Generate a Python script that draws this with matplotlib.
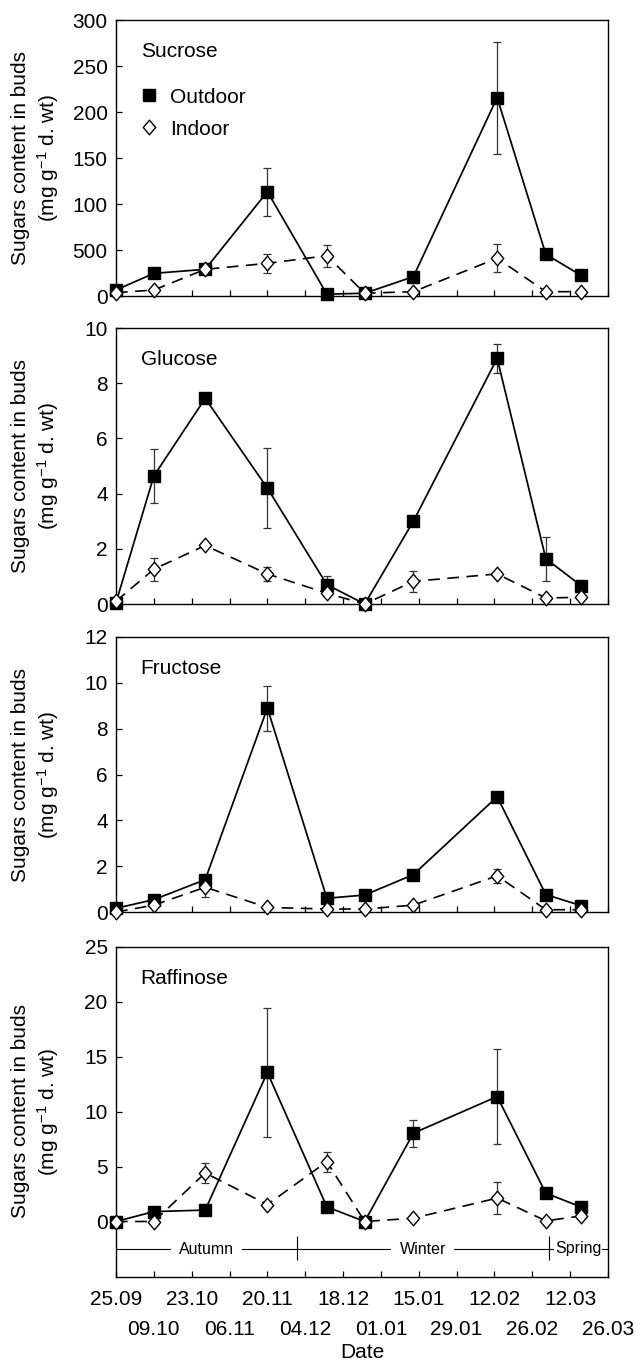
import matplotlib.pyplot as plt
import pandas as pd
from matplotlib.path import Path
from matplotlib.lines import Line2D

plt.rcParams['font.family'] = ['Liberation Sans', 'DejaVu Sans']
plt.rcParams['mathtext.fontset'] = 'custom'
plt.rcParams['mathtext.rm'] = 'Liberation Sans'
plt.rcParams['mathtext.default'] = 'regular'

# sampling dates (autumn 2006 - spring 2007)
sample_dates = ['25.09', '09.10', '28.10', '20.11', '12.12', '26.12',
                '13.01', '13.02', '03.03', '16.03']
tick_labels = ['25.09', '09.10', '23.10', '06.11', '20.11', '04.12', '18.12',
               '01.01', '15.01', '29.01', '12.02', '26.02', '12.03', '26.03']
seasons = ['Autumn', 'Winter', 'Spring']
season_bounds = ['25.09', '01.12', '04.03', '26.03']

sucrose_out = [6.5, 24.6, 29, 113.4, 2, 3, 21, 215.6, 45.3, 22.5]
sucrose_out_err = [0, 0, 0, 26, 0, 0, 0, 61, 0, 0]
sucrose_in = [3.6, 6.5, 29, 35.5, 43.8, 3, 4.7, 41, 4.7, 4.7]
sucrose_in_err = [0, 0, 0, 10, 12, 0, 0, 15, 0, 0]

glucose_out = [0.05, 4.64, 7.45, 4.2, 0.7, 0, 3.0, 8.9, 1.64, 0.67]
glucose_out_err = [0, 0.97, 0, 1.45, 0.33, 0, 0, 0.53, 0.8, 0]
glucose_in = [0.1, 1.26, 2.12, 1.09, 0.39, 0, 0.82, 1.09, 0.22, 0.24]
glucose_in_err = [0, 0.41, 0, 0.26, 0, 0, 0.38, 0, 0, 0]

fructose_out = [0.16, 0.54, 1.41, 8.9, 0.6, 0.74, 1.63, 5.03, 0.76, 0.28]
fructose_out_err = [0, 0, 0, 0.98, 0, 0, 0, 0, 0, 0]
fructose_in = [0, 0.3, 1.08, 0.2, 0.13, 0.13, 0.3, 1.58, 0.1, 0.1]
fructose_in_err = [0, 0, 0.42, 0, 0, 0, 0, 0.3, 0, 0]

raffinose_out = [0, 0.9, 1.04, 13.55, 1.33, 0, 8.03, 11.36, 2.57, 1.33]
raffinose_out_err = [0, 0, 0, 5.9, 0, 0, 1.24, 4.3, 0, 0]
raffinose_in = [0, 0, 4.41, 1.54, 5.44, 0, 0.3, 2.13, 0.06, 0.5]
raffinose_in_err = [0, 0, 0.93, 0, 0.9, 0, 0, 1.43, 0, 0]

sugars = ['Sucrose', 'Glucose', 'Fructose', 'Raffinose']
outdoor = [sucrose_out, glucose_out, fructose_out, raffinose_out]
outdoor_err = [sucrose_out_err, glucose_out_err, fructose_out_err, raffinose_out_err]
indoor = [sucrose_in, glucose_in, fructose_in, raffinose_in]
indoor_err = [sucrose_in_err, glucose_in_err, fructose_in_err, raffinose_in_err]
y_ticks = [[0, 50, 100, 150, 200, 250, 300], [0, 2, 4, 6, 8, 10],
           [0, 2, 4, 6, 8, 10, 12], [0, 5, 10, 15, 20, 25]]
y_ticklabels = [['0', '500', '100', '150', '200', '250', '300'], None, None, None]
y_lims = [(0, 300), (0, 10), (0, 12), (-5, 25)]


def to_date(s):
    year = 2006 if int(s[3:]) >= 9 else 2007
    return pd.to_datetime(s + '.' + str(year), format='%d.%m.%Y')


x = [to_date(d) for d in sample_dates]
ticks = [to_date(d) for d in tick_labels]
bounds = [to_date(d) for d in season_bounds]

# open diamond slightly narrower than tall
diamond = Path([(0, 1), (0.85, 0), (0, -1), (-0.85, 0), (0, 1)],
               [Path.MOVETO, Path.LINETO, Path.LINETO, Path.LINETO, Path.CLOSEPOLY])

fs = 15
fig = plt.figure(figsize=(6.37, 13.64), dpi=100)
W, H = 637, 1364
boxes = [(20, 296), (328, 604), (637, 912), (946.5, 1276.5)]
left, right = 116, 608

for i, name in enumerate(sugars):
    top, bot = boxes[i]
    ax = fig.add_axes([left / W, 1 - bot / H, (right - left) / W, (bot - top) / H])

    # error bars only where there is one
    for vals, errs in [(outdoor[i], outdoor_err[i]), (indoor[i], indoor_err[i])]:
        idx = [k for k in range(len(errs)) if errs[k] > 0]
        ax.errorbar([x[k] for k in idx], [vals[k] for k in idx], yerr=[errs[k] for k in idx],
                    fmt='none', ecolor='#333333', elinewidth=0.9, capsize=3.2,
                    capthick=0.9, zorder=2, clip_on=False)

    ax.plot(x, outdoor[i], color='black', lw=1.25, marker='s', ms=9,
            mfc='black', mec='black', mew=1, zorder=3, clip_on=False)
    ax.plot(x, indoor[i], color='black', lw=1.2, ls=(0, (7, 4.5)), marker=diamond,
            ms=10.5, mfc='white', mec='black', mew=1, zorder=4, clip_on=False)

    ax.set_xlim(ticks[0], ticks[-1])
    ax.set_ylim(*y_lims[i])
    ax.set_yticks(y_ticks[i])
    if y_ticklabels[i] is not None:
        ax.set_yticklabels(y_ticklabels[i])

    if i == 3:
        ax.set_xticks(ticks[0::2], tick_labels[0::2])
        ax.set_xticks(ticks[1::2], tick_labels[1::2], minor=True)
        ax.tick_params(axis='x', which='major', pad=10)
        ax.tick_params(axis='x', which='minor', pad=31)
        ax.set_xlabel('Date', fontsize=fs, labelpad=3)
    else:
        ax.set_xticks(ticks[0::2], [''] * len(ticks[0::2]))
        ax.set_xticks(ticks[1::2], [''] * len(ticks[1::2]), minor=True)

    ax.tick_params(axis='both', which='both', direction='in', length=4.5, width=0.9,
                   labelsize=fs, top=False, right=False)
    ax.tick_params(axis='y', which='major', pad=6)
    ax.tick_params(axis='y', which='minor', left=False)
    for sp in ax.spines.values():
        sp.set_linewidth(1.0)

    ax.text(-0.163, 0.5, 'Sugars content in buds\n(mg g$^{-1}$ d. wt)', transform=ax.transAxes,
            rotation=90, ha='center', va='center', multialignment='center',
            fontsize=fs, linespacing=1.25)

    ax.annotate(name, xy=(0.05, 1), xycoords='axes fraction', xytext=(0, -23),
                textcoords='offset points', ha='left', va='center', fontsize=fs)

    if i == 0:
        handles = [Line2D([], [], ls='none', marker='s', ms=9, mfc='black', mec='black'),
                   Line2D([], [], ls='none', marker=diamond, ms=10.5, mfc='white',
                          mec='black', mew=1)]
        ax.legend(handles, ['Outdoor', 'Indoor'], loc='upper left',
                  bbox_to_anchor=(0.045, 0.755), frameon=False, fontsize=fs,
                  handlelength=1.0, handletextpad=0.55, labelspacing=0.62,
                  borderpad=0, borderaxespad=0)

    if i == 3:
        ax.axhline(-2.5, color='black', lw=0.8, zorder=1)
        ax.vlines(bounds[1:3], -3.5, -1.3, color='black', lw=0.8, zorder=1)
        for k, s in enumerate(seasons):
            mid = bounds[k] + (bounds[k + 1] - bounds[k]) / 2
            pad = 6 if k < 2 else 0.6
            ax.text(mid, -2.5, s, ha='center', va='center', fontsize=11.5, zorder=2,
                    bbox=dict(facecolor='white', edgecolor='none', pad=pad))

fig.savefig('out.png', dpi=100)
